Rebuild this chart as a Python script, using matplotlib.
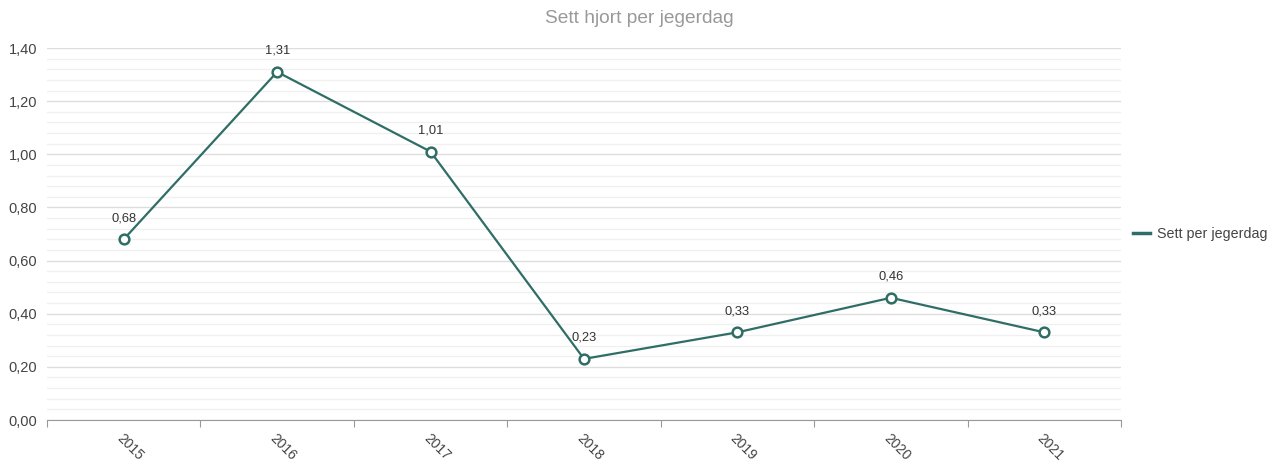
import numpy as np
import matplotlib.pyplot as plt
from matplotlib.ticker import MultipleLocator

plt.rcParams['font.family'] = ['Liberation Sans', 'DejaVu Sans']

years = ["2015", "2016", "2017", "2018", "2019", "2020", "2021"]
seen_per_day = [0.68, 1.31, 1.01, 0.23, 0.33, 0.46, 0.33]
value_labels = ["0,68", "1,31", "1,01", "0,23", "0,33", "0,46", "0,33"]

color = "#2f6e66"

fig = plt.figure(figsize=(12.78, 4.63), dpi=100)
ax = fig.add_axes([47/1278, 43/463, (1121-47)/1278, (420-48)/463])

x = np.arange(len(years)) + 0.5
ax.plot(x, seen_per_day, color=color, lw=1.6, marker="o", ms=7,
        mfc="white", mec=color, mew=1.8, label="Sett per jegerdag", zorder=3)

for xi, v, lab in zip(x, seen_per_day, value_labels):
    ax.annotate(lab, (xi, v), xytext=(0, 11), textcoords="offset points",
                ha="center", va="bottom", fontsize=9.3, color="#333333")

ax.set_xlim(0, len(years))
ax.set_ylim(0, 1.40)
ax.yaxis.set_minor_locator(MultipleLocator(0.04))
ax.set_yticks(np.arange(0, 1.41, 0.2))
ax.set_yticklabels([f"{t:.2f}".replace(".", ",") for t in np.arange(0, 1.41, 0.2)])
ax.grid(which="major", axis="y", color="#dddddd", lw=1)
ax.grid(which="minor", axis="y", color="#f0f0f0", lw=1)
ax.tick_params(axis="y", which="both", length=0, labelsize=10.5, labelcolor="#444444", pad=7)

ax.set_xticks(np.arange(len(years) + 1))
ax.set_xticklabels([])
ax.set_xticks(x, minor=True)
ax.set_xticklabels(years, minor=True, rotation=-45, ha="left", va="top",
                   rotation_mode="anchor", fontsize=10, color="#444444")
ax.tick_params(axis="x", which="major", length=5, color="#999999")
ax.tick_params(axis="x", which="minor", length=0, pad=8)

for s in ["top", "right", "left"]:
    ax.spines[s].set_visible(False)
ax.spines["bottom"].set_color("#999999")
ax.set_axisbelow(True)

fig.text(0.5, 0.96, "Sett hjort per jegerdag", ha="center", va="center",
         fontsize=13.8, color="#999999")

ax.legend(loc="center left", bbox_to_anchor=(0.999, 0.5), frameon=False,
          fontsize=10.3, handlelength=1.2, handletextpad=0.5, labelcolor="#444444")
leg = ax.get_legend()
for h in leg.legend_handles:
    h.set_marker("")
    h.set_linewidth(2.5)

fig.savefig("out.png", dpi=100)
